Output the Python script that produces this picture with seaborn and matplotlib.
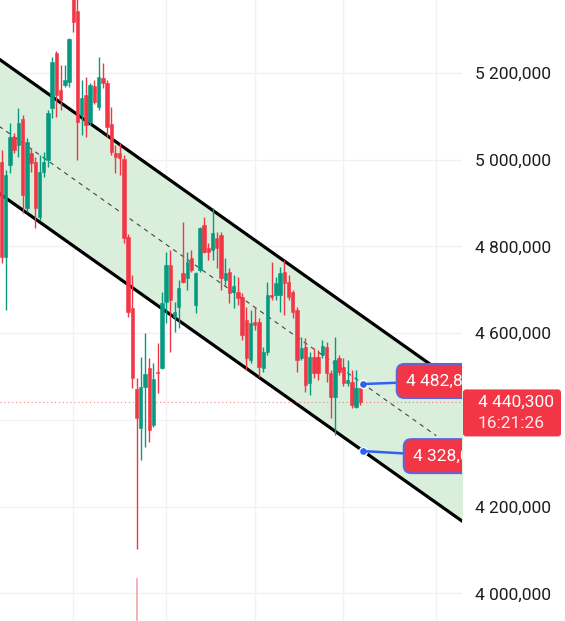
import numpy as np
import pandas as pd
import matplotlib
matplotlib.use('Agg')
import matplotlib.pyplot as plt
import matplotlib.transforms as mtransforms
from matplotlib.patches import FancyBboxPatch
from matplotlib.ticker import FuncFormatter
import seaborn as sns

# ── Data (prices in thousands) ─────────────────────────
opens = [4995, 4776, 4988, 5053, 5034, 5094, 4888, 5016, 4995, 4868,
         4972, 5000, 5119, 5246, 5161, 5172, 5179, 5380, 5343, 5103,
         5149, 5087, 5170, 5122, 5188, 5177, 5082, 5016, 5016, 5002,
         4822, 4658, 4471, 4381, 4476, 4520, 4388, 4511, 4520, 4672,
         4757, 4637, 4660, 4739, 4727, 4773, 4665, 4746, 4850, 4796,
         4792, 4820, 4827, 4723, 4741, 4695, 4695, 4683, 4630, 4538,
         4626, 4626, 4520, 4557, 4688, 4688, 4688, 4741, 4718, 4695,
         4653, 4543, 4568, 4485, 4545, 4545, 4550, 4568, 4508, 4453,
         4543, 4522, 4485, 4487, 4430, 4474]
highs = [5023, 4976, 5085, 5062, 5119, 5103, 5050, 5027, 5006, 5011,
         5018, 5115, 5237, 5251, 5218, 5218, 5281, 5395, 5375, 5184,
         5191, 5177, 5184, 5237, 5223, 5184, 5122, 5034, 5039, 5011,
         4829, 4734, 4497, 4545, 4600, 4543, 4531, 4577, 4695, 4787,
         4792, 4672, 4723, 4856, 4787, 4792, 4741, 4845, 4868, 4808,
         4889, 4833, 4833, 4773, 4750, 4734, 4730, 4692, 4660, 4653,
         4660, 4635, 4568, 4718, 4764, 4730, 4753, 4769, 4734, 4700,
         4660, 4591, 4589, 4557, 4566, 4561, 4584, 4580, 4515, 4591,
         4550, 4543, 4538, 4515, 4515, 4478]
lows = [4762, 4653, 4969, 5016, 5006, 4877, 4879, 4972, 4843, 4861,
        4960, 4983, 5096, 5098, 5115, 5168, 5168, 5295, 5000, 5057,
        5053, 5080, 5128, 5115, 5165, 5053, 5011, 4969, 4965, 4808,
        4637, 4474, 4102, 4308, 4338, 4349, 4383, 4462, 4518, 4624,
        4557, 4603, 4612, 4716, 4700, 4741, 4646, 4741, 4785, 4769,
        4769, 4750, 4700, 4711, 4669, 4658, 4665, 4584, 4515, 4531,
        4607, 4499, 4510, 4550, 4676, 4676, 4649, 4642, 4676, 4635,
        4510, 4538, 4464, 4457, 4497, 4492, 4543, 4487, 4404, 4365,
        4504, 4478, 4478, 4427, 4427, 4434]
closes = [4776, 4965, 5053, 5023, 5085, 4918, 5041, 4992, 4888, 4972,
          4995, 5108, 5225, 5149, 5138, 5184, 5278, 5318, 5087, 5142,
          5080, 5172, 5133, 5191, 5177, 5075, 5018, 5006, 5004, 4820,
          4649, 4497, 4404, 4476, 4506, 4377, 4494, 4508, 4670, 4757,
          4676, 4649, 4704, 4718, 4764, 4746, 4739, 4843, 4787, 4787,
          4831, 4796, 4727, 4739, 4692, 4709, 4681, 4596, 4543, 4623,
          4619, 4522, 4557, 4688, 4683, 4716, 4739, 4716, 4683, 4649,
          4538, 4566, 4480, 4545, 4508, 4508, 4570, 4508, 4453, 4538,
          4511, 4485, 4492, 4434, 4474, 4440.3]

price_ticks = [4_000_000, 4_200_000, 4_400_000, 4_600_000,
               4_800_000, 5_000_000, 5_200_000]
time_grid = [17, 39, 60, 81, 103]

# channel (anchored on the last bar)
anchor_k = 85.7
mid_anchor = 4_482_800
low_anchor = 4_328_000
slope = -6_891          # per bar

# only one volume bar reaches into view (share of pane height)
volume_k = [32]
volume = [0.071]

last_price = 4_440_300
last_time = '16:21:26'

UP, DOWN = '#089981', '#f23645'

# ── Figure ─────────────────────────────────────────────
sns.set_theme(style='white')
plt.rcParams['font.family'] = ['Roboto', 'DejaVu Sans']

W, H = 565, 621
fig = plt.figure(figsize=(W / 100, H / 100), dpi=100)
ax = fig.add_axes([0, 0, 462 / W, 1])

df = pd.DataFrame({'open': opens, 'high': highs, 'low': lows, 'close': closes}) * 1000
df['k'] = np.arange(len(df))
colors = np.where(df.close >= df.open, UP, DOWN)

# channel
kk = np.array([-3, 115])
mid = mid_anchor + slope * (kk - anchor_k)
half = mid_anchor - low_anchor
ax.fill_between(kk, mid - half, mid + half, color='#d9eedb', lw=0, zorder=1)
sns.lineplot(x=kk, y=mid + half, color='black', lw=2.3, ax=ax, zorder=2)
sns.lineplot(x=kk, y=mid - half, color='black', lw=2.3, ax=ax, zorder=2)
km = np.array([-3, 103])
ax.plot(km, mid_anchor + slope * (km - anchor_k), color='#444444',
        lw=0.8, ls=(0, (4, 4)), zorder=2)

# candles
ax.vlines(df.k, df.low, df.high, colors=colors, lw=1, zorder=3)
ax.bar(df.k, (df.close - df.open).abs(), bottom=np.minimum(df.open, df.close),
       width=0.8, color=colors, edgecolor=colors, lw=0.4, zorder=4)

# last price line
ax.axhline(last_price, color=DOWN, lw=0.8, ls=(0, (1, 2.5)), alpha=0.6, zorder=2)

# volume overlay (x in bars, y as share of the pane)
vol_tr = mtransforms.blended_transform_factory(ax.transData, ax.transAxes)
ax.bar(volume_k, volume, width=0.85, color='#f0a0a8', transform=vol_tr, zorder=1)

# channel anchors + labels
ax.scatter([anchor_k] * 2, [mid_anchor, low_anchor], s=34, color='#2f62f0',
           edgecolor='white', lw=1, zorder=7)
for val, off in [(mid_anchor, (43, 3)), (low_anchor, (50, -5))]:
    m = val // 1_000_000
    r = val % 1_000_000
    ax.annotate(f'{m} {r // 1000:03d},{r % 1000:03d}', xy=(anchor_k, val),
                xytext=off, textcoords='offset pixels', ha='left', va='center',
                fontsize=12.5, color='white', clip_on=True, zorder=8,
                bbox=dict(boxstyle='round,pad=0.55,rounding_size=0.45',
                          fc=DOWN, ec='#5868e0', lw=1.4),
                arrowprops=dict(arrowstyle='-', color='#2f62f0', lw=1.8,
                                shrinkA=0, shrinkB=0))

# axes
ax.set_xlim(-0.36, 109.1)
ax.set_ylim(3_936_200, 5_368_400)
ax.set_xticks(time_grid)
ax.set_yticks(price_ticks)
ax.yaxis.tick_right()


def fmt(v, _):
    v = int(round(v))
    return f'{v // 1_000_000} {(v % 1_000_000) // 1000:03d},{v % 1000:03d}'


def tick_fmt(v, pos):
    # the tick under the last-price tag is covered in the original
    if abs(v - last_price) < 60_000:
        return ''
    return fmt(v, pos)


ax.yaxis.set_major_formatter(FuncFormatter(tick_fmt))
ax.tick_params(axis='y', length=0, pad=9.4, labelsize=12.5, labelcolor='#1e1e1e')
ax.tick_params(axis='x', length=0, labelbottom=False)
ax.grid(True, color='#f1f1f1', lw=1)
ax.set_axisbelow(True)
for s in ax.spines.values():
    s.set_visible(False)

# last price tag
fig.canvas.draw()
yd = ax.transData.transform((0, last_price))[1]
ident = mtransforms.IdentityTransform()
fig.add_artist(FancyBboxPatch((463, yd - 34), 98, 47,
                              boxstyle='round,pad=0,rounding_size=3',
                              fc=DOWN, ec='none', transform=ident))
fig.text(478, yd, fmt(last_price, None), transform=ident, color='white',
         fontsize=12.5, va='center', ha='left')
fig.text(478, yd - 21, last_time, transform=ident, color='#ffe8ea',
         fontsize=12.5, va='center', ha='left')

fig.savefig('out.png', dpi=100)
